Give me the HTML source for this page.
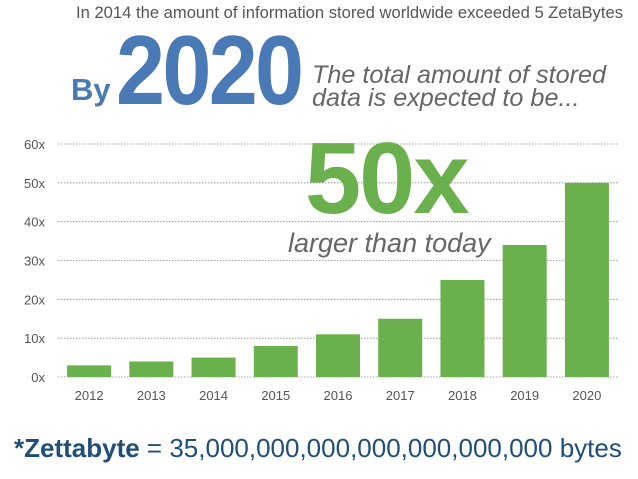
<!DOCTYPE html>
<html><head><meta charset="utf-8"><style>
body{margin:0;background:#fff;width:638px;height:479px;overflow:hidden;font-family:"Liberation Sans",sans-serif;position:relative}
.t{position:absolute;white-space:nowrap}
</style></head><body>
<div class="t" style="left:76px;top:3px;font-size:16.6px;color:#555">In 2014 the amount of information stored worldwide exceeded 5 ZetaBytes</div>
<div class="t" style="left:71px;top:72px;font-size:31px;font-weight:bold;color:#4a7ab5">By</div>
<div class="t" style="left:116px;top:14px;font-size:98px;font-weight:bold;color:#4a7ab5;letter-spacing:-3px;transform:scaleX(0.9);transform-origin:left top">2020</div>
<div class="t" style="left:312px;top:64px;font-size:25.2px;font-style:italic;color:#666;line-height:23px">The total amount of stored<br>data is expected to be...</div>
<svg width="638" height="479" style="position:absolute;left:0;top:0">
<g id="grid"></g><g id="bars"></g><g id="labels"></g>
</svg>
<div class="t" style="left:305px;top:122px;font-size:101px;font-weight:bold;color:#6ab04c;letter-spacing:-2px">50x</div>
<div class="t" style="left:288px;top:228px;font-size:27px;font-style:italic;color:#666">larger than today</div>
<div class="t" style="left:14px;top:433px;font-size:26px;color:#1f4e79"><b>*Zettabyte</b> = 35,000,000,000,000,000,000,000 bytes</div>
<script>
const categories=["2012","2013","2014","2015","2016","2017","2018","2019","2020"];
const values=[3,4,5,8,11,15,25,34,50];
const ticks=[0,10,20,30,40,50,60];
const tickLabels=["0x","10x","20x","30x","40x","50x","60x"];
const ns="http://www.w3.org/2000/svg";
const x0=58,x1=618,y0=377,y1=144,vmax=60;
const bw=(x1-x0)/categories.length;
const y=v=>y0-(v/vmax)*(y0-y1);
const xc=i=>x0+bw*(i+0.5);
const G=document.getElementById('grid'),B=document.getElementById('bars'),L=document.getElementById('labels');
ticks.forEach((t,i)=>{
 const l=document.createElementNS(ns,'line');
 
 
 l.setAttribute('x1',x0);l.setAttribute('x2',x1);l.setAttribute('y1',y(t));l.setAttribute('y2',y(t));
 l.setAttribute('stroke','#888');l.setAttribute('stroke-width','0.8');l.setAttribute('stroke-dasharray','1.5,1.5');
 G.appendChild(l);
 const tx=document.createElementNS(ns,'text');
 
 
 tx.setAttribute('x',45);tx.setAttribute('y',y(t)+5);tx.setAttribute('text-anchor','end');
 tx.setAttribute('font-size','13');tx.setAttribute('fill','#555');tx.setAttribute('font-family','Liberation Sans');
 tx.textContent=tickLabels[i];L.appendChild(tx);
});
categories.forEach((c,i)=>{
 const r=document.createElementNS(ns,'rect');
 
 
 r.setAttribute('x',xc(i)-22);r.setAttribute('width',44);
 r.setAttribute('y',y(values[i]));r.setAttribute('height',y0-y(values[i]));
 r.setAttribute('fill','#6ab04c');B.appendChild(r);
 const tx=document.createElementNS(ns,'text');
 
 
 tx.setAttribute('x',xc(i));tx.setAttribute('y',400);tx.setAttribute('text-anchor','middle');
 tx.setAttribute('font-size','13');tx.setAttribute('fill','#555');tx.setAttribute('font-family','Liberation Sans');
 tx.textContent=c;L.appendChild(tx);
});
</script>
</body></html>
